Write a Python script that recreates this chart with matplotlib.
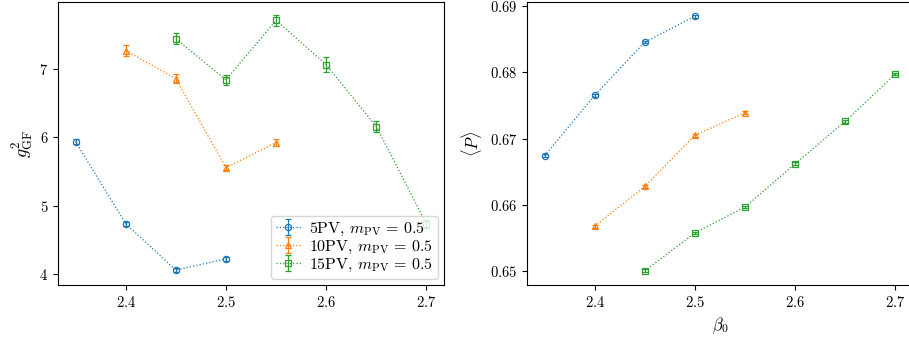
import matplotlib
matplotlib.use("Agg")
import matplotlib.pyplot as plt

plt.rcParams["font.family"] = "serif"
plt.rcParams["font.serif"] = ["cmr10"]
plt.rcParams["mathtext.fontset"] = "cm"
plt.rcParams["axes.formatter.use_mathtext"] = True
plt.rcParams["font.size"] = 10.5

# beta_0 values per ensemble
beta_5 = [2.35, 2.40, 2.45, 2.50]
beta_10 = [2.40, 2.45, 2.50, 2.55]
beta_15 = [2.45, 2.50, 2.55, 2.60, 2.65, 2.70]

# gradient flow coupling g^2_GF
g2_5 = [5.936, 4.735, 4.057, 4.222]
g2_5_err = [0.04, 0.03, 0.03, 0.03]
g2_10 = [7.268, 6.858, 5.555, 5.921]
g2_10_err = [0.08, 0.07, 0.04, 0.05]
g2_15 = [7.44, 6.84, 7.71, 7.06, 6.155, 4.73]
g2_15_err = [0.08, 0.07, 0.08, 0.11, 0.08, 0.06]

# plaquette <P>
P_5 = [0.6674, 0.6765, 0.6845, 0.6884]
P_5_err = [0.0002, 0.0002, 0.0002, 0.0002]
P_10 = [0.6568, 0.6628, 0.6705, 0.6739]
P_10_err = [0.0002, 0.0002, 0.0002, 0.0002]
P_15 = [0.6501, 0.6558, 0.6597, 0.6662, 0.6726, 0.6797]
P_15_err = [0.0002, 0.0002, 0.0002, 0.0002, 0.0002, 0.0002]

labels = [r"5PV, $m_{\rm PV}\,=\,0.5$", r"10PV, $m_{\rm PV}\,=\,0.5$", r"15PV, $m_{\rm PV}\,=\,0.5$"]
colors = ["#1f77b4", "#ff7f0e", "#2ca02c"]
markers = ["o", "^", "s"]

fig = plt.figure(figsize=(9.09, 3.49), dpi=100)
ax1 = fig.add_axes([0.0638, 0.1834, 0.4247, 0.8109])
ax2 = fig.add_axes([0.5798, 0.1834, 0.4246, 0.8109])

style = dict(ls=":", lw=0.9, ms=4.5, mfc="none", mew=0.9, capsize=2.2, elinewidth=0.9)

sets_g2 = [(beta_5, g2_5, g2_5_err), (beta_10, g2_10, g2_10_err), (beta_15, g2_15, g2_15_err)]
sets_P = [(beta_5, P_5, P_5_err), (beta_10, P_10, P_10_err), (beta_15, P_15, P_15_err)]

for (x, y, e), c, m, lab in zip(sets_g2, colors, markers, labels):
    ax1.errorbar(x, y, yerr=e, color=c, marker=m, label=lab, **style)
for (x, y, e), c, m in zip(sets_P, colors, markers):
    ax2.errorbar(x, y, yerr=e, color=c, marker=m, **style)

ax1.set_ylabel(r"$g^2_{\rm GF}$", fontsize=13, labelpad=2)
ax1.set_yticks([4, 5, 6, 7])
ax1.legend(loc="lower right", fontsize=11.5, labelspacing=0.05, handlelength=1.6,
           handletextpad=0.5, borderpad=0.3, borderaxespad=0.4)

ax2.set_ylabel(r"$\langle P \rangle$", fontsize=12)
ax2.set_xlabel(r"$\beta_0$", fontsize=12)
ax2.set_yticks([0.65, 0.66, 0.67, 0.68, 0.69])

for ax in (ax1, ax2):
    ax.set_xticks([2.4, 2.5, 2.6, 2.7])

fig.savefig("out.png", dpi=100)
